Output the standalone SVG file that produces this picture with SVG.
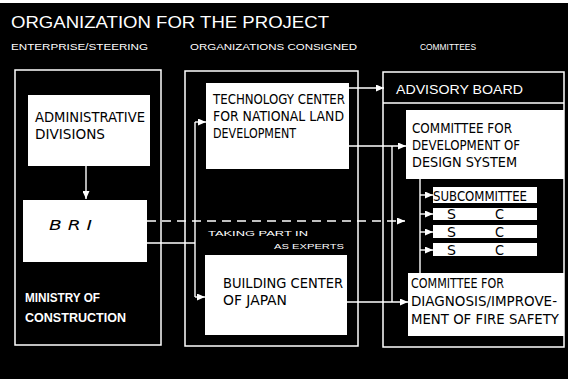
<svg xmlns="http://www.w3.org/2000/svg" width="568" height="379" viewBox="0 0 568 379">
<style>
.frame{fill:none;stroke:#fff;stroke-width:1.5}
.box{fill:#fff;stroke:none}
.ln{fill:none;stroke:#fff;stroke-width:1.4}
.dash{fill:none;stroke:#fff;stroke-width:1.4;stroke-dasharray:9 6}
.hd{font-family:"Liberation Sans",Arial,sans-serif;fill:#fff}
.bx{font-family:"Liberation Sans Narrow","DejaVu Sans Condensed","Liberation Sans",sans-serif;fill:#000;font-size:14.5px}
</style>
<defs>
<marker id="ah" markerUnits="userSpaceOnUse" markerWidth="8" markerHeight="7" refX="8" refY="3.5" orient="auto">
<path d="M0,0 L8,3.5 L0,7 z" fill="#fff"/>
</marker>
</defs>
<rect x="0" y="0" width="568" height="379" fill="#000"/>
<rect x="0" y="0" width="568" height="3" fill="#fff"/>

<g id="title">
<text class="hd" x="11" y="28" font-size="17" textLength="318" lengthAdjust="spacingAndGlyphs">ORGANIZATION FOR THE PROJECT</text>
<text class="hd" x="11" y="50" font-size="9.5" textLength="137" lengthAdjust="spacingAndGlyphs">ENTERPRISE/STEERING</text>
<text class="hd" x="190" y="50" font-size="9.5" textLength="167" lengthAdjust="spacingAndGlyphs">ORGANIZATIONS CONSIGNED</text>
<text class="hd" x="420" y="50" font-size="9.5" textLength="56" lengthAdjust="spacingAndGlyphs">COMMITTEES</text>
</g>

<g id="ministry">
<rect class="frame" x="15" y="70" width="146" height="275"/>
<text class="hd" x="25" y="302" font-size="12" font-weight="bold" textLength="75" lengthAdjust="spacingAndGlyphs">MINISTRY OF</text>
<text class="hd" x="25" y="322" font-size="12" font-weight="bold" textLength="101" lengthAdjust="spacingAndGlyphs">CONSTRUCTION</text>
</g>

<g id="admin">
<rect class="box" x="28" y="95" width="122" height="71"/>
<text class="bx" x="35" y="122" textLength="110" lengthAdjust="spacingAndGlyphs">ADMINISTRATIVE</text>
<text class="bx" x="35" y="139" textLength="70" lengthAdjust="spacingAndGlyphs">DIVISIONS</text>
</g>

<g id="bri">
<rect class="box" x="23" y="200" width="124" height="62"/>
<text class="bx" x="49" y="230" font-size="13" font-style="italic" textLength="43" lengthAdjust="spacingAndGlyphs">B R I</text>
</g>

<g id="consigned">
<rect class="frame" x="185" y="71" width="173" height="275"/>
<text class="hd" x="208" y="236" font-size="8" textLength="100" lengthAdjust="spacingAndGlyphs">TAKING PART IN</text>
<text class="hd" x="274" y="249" font-size="8" textLength="70" lengthAdjust="spacingAndGlyphs">AS EXPERTS</text>
</g>

<g id="techcenter">
<rect class="box" x="206" y="83" width="143" height="86"/>
<text class="bx" x="213" y="104" textLength="132" lengthAdjust="spacingAndGlyphs">TECHNOLOGY CENTER</text>
<text class="bx" x="213" y="121" textLength="131" lengthAdjust="spacingAndGlyphs">FOR NATIONAL LAND</text>
<text class="bx" x="213" y="138" textLength="83" lengthAdjust="spacingAndGlyphs">DEVELOPMENT</text>
</g>

<g id="buildingcenter">
<rect class="box" x="205" y="255" width="142" height="80"/>
<text class="bx" x="223" y="288" textLength="120" lengthAdjust="spacingAndGlyphs">BUILDING CENTER</text>
<text class="bx" x="223" y="305" textLength="64" lengthAdjust="spacingAndGlyphs">OF JAPAN</text>
</g>

<g id="committees">
<rect class="frame" x="383" y="72" width="181" height="275"/>
<line class="ln" x1="383" y1="103" x2="564" y2="103"/>
<text class="hd" x="396" y="94" font-size="13" textLength="127" lengthAdjust="spacingAndGlyphs">ADVISORY BOARD</text>
</g>

<g id="designcommittee">
<rect class="box" x="406" y="110" width="158" height="69"/>
<text class="bx" x="412" y="133" textLength="100" lengthAdjust="spacingAndGlyphs">COMMITTEE FOR</text>
<text class="bx" x="412" y="150" textLength="108" lengthAdjust="spacingAndGlyphs">DEVELOPMENT OF</text>
<text class="bx" x="412" y="167" textLength="105" lengthAdjust="spacingAndGlyphs">DESIGN SYSTEM</text>
</g>

<g id="subcommittees">
<rect class="box" x="433" y="187" width="104" height="16"/>
<text class="bx" x="433" y="201" textLength="94" lengthAdjust="spacingAndGlyphs">SUBCOMMITTEE</text>
<rect class="box" x="433" y="208" width="104" height="12"/>
<text class="bx" x="447" y="219" font-size="13" textLength="9" lengthAdjust="spacingAndGlyphs">S</text>
<text class="bx" x="495" y="219" font-size="13" textLength="9" lengthAdjust="spacingAndGlyphs">C</text>
<rect class="box" x="433" y="225" width="104" height="13"/>
<text class="bx" x="447" y="237" font-size="13" textLength="9" lengthAdjust="spacingAndGlyphs">S</text>
<text class="bx" x="495" y="237" font-size="13" textLength="9" lengthAdjust="spacingAndGlyphs">C</text>
<rect class="box" x="433" y="243" width="104" height="13"/>
<text class="bx" x="447" y="255" font-size="13" textLength="9" lengthAdjust="spacingAndGlyphs">S</text>
<text class="bx" x="495" y="255" font-size="13" textLength="9" lengthAdjust="spacingAndGlyphs">C</text>
</g>

<g id="firecommittee">
<rect class="box" x="408" y="273" width="156" height="63"/>
<text class="bx" x="411" y="288" textLength="93" lengthAdjust="spacingAndGlyphs">COMMITTEE FOR</text>
<text class="bx" x="411" y="306" textLength="146" lengthAdjust="spacingAndGlyphs">DIAGNOSIS/IMPROVE-</text>
<text class="bx" x="411" y="324" textLength="148" lengthAdjust="spacingAndGlyphs">MENT OF FIRE SAFETY</text>
</g>

<g id="connectors">
<line class="ln" x1="86" y1="166" x2="86" y2="199" marker-end="url(#ah)"/>
<line class="dash" x1="147" y1="221" x2="405" y2="221" marker-end="url(#ah)"/>
<polyline class="ln" points="147,243 195,243"/>
<line class="ln" x1="195" y1="122" x2="195" y2="297"/>
<line class="ln" x1="195" y1="122" x2="206" y2="122" marker-end="url(#ah)"/>
<line class="ln" x1="195" y1="297" x2="205" y2="297" marker-end="url(#ah)"/>
<line class="ln" x1="349" y1="88" x2="384" y2="88" marker-end="url(#ah)"/>
<line class="ln" x1="349" y1="146" x2="406" y2="146" marker-end="url(#ah)"/>
<line class="ln" x1="392" y1="146" x2="392" y2="302"/>
<line class="ln" x1="347" y1="302" x2="408" y2="302" marker-end="url(#ah)"/>
<line class="ln" x1="420" y1="179" x2="420" y2="273"/>
<line class="ln" x1="420" y1="195" x2="433" y2="195" marker-end="url(#ah)"/>
<line class="ln" x1="420" y1="214" x2="433" y2="214" marker-end="url(#ah)"/>
<line class="ln" x1="420" y1="232" x2="433" y2="232" marker-end="url(#ah)"/>
<line class="ln" x1="420" y1="250" x2="433" y2="250" marker-end="url(#ah)"/>
</g>
</svg>
